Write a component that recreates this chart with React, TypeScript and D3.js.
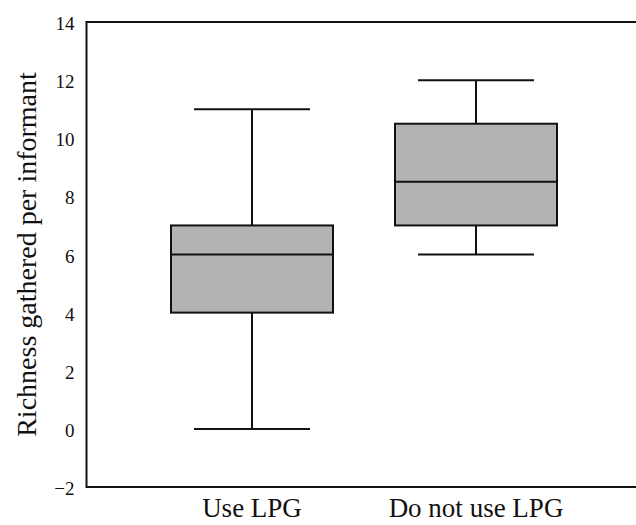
import * as d3 from 'd3';
import { useEffect, useRef } from 'react';

const groups = ['Use LPG', 'Do not use LPG'];
const whiskerLow = [0, 6];
const q1 = [4, 7];
const median = [6, 8.5];
const q3 = [7, 10.5];
const whiskerHigh = [11, 12];
const yTicks = [-2, 0, 2, 4, 6, 8, 10, 12, 14];

export default function App() {
  const svgRef = useRef<SVGSVGElement>(null);

  useEffect(() => {
    document.body.style.margin = '0';
    drawChart(svgRef.current!);
  }, []);

  return (
    <div>
      <svg ref={svgRef} style={{ display: 'block' }}></svg>
    </div>
  );
}

function drawChart(el: SVGSVGElement) {
  const w = 636;
  const h = 525;
  const left = 86.5;
  const top = 22;
  const bottom = 487;
  const font = "'Liberation Serif', 'Times New Roman', Times, Tinos, 'DejaVu Serif', 'Noto Serif', serif";

  const svg = d3.select(el).attr('width', w).attr('height', h)
    .style('font-family', font);
  svg.selectAll('*').remove();

  const x = d3.scalePoint<string>().domain(groups).range([252, 476]);
  const y = d3.scaleLinear().domain([-2, 14]).range([bottom, top]);

  const boxW = 162;
  const capW = 116;

  // frame (top and bottom run off the right edge)
  svg.append('path')
    .attr('d', `M${w + 10},${top}H${left}V${bottom}H${w + 10}`)
    .attr('fill', 'none')
    .attr('stroke', '#111')
    .attr('stroke-width', 2);

  const yAxis = d3.axisLeft(y).tickValues(yTicks).tickSize(0).tickPadding(12);
  const ga = svg.append('g')
    .attr('transform', `translate(${left},0)`)
    .call(yAxis)
    .attr('font-family', null)
    .attr('font-size', null);
  ga.select('.domain').remove();
  ga.selectAll('text')
    .style('font-family', font)
    .style('font-size', '19px')
    .attr('fill', '#111')
    .attr('dy', '0.4em');

  const g = svg.append('g')
    .selectAll('g')
    .data(groups)
    .join('g');

  const stroke = '#111';
  g.append('line')
    .attr('x1', (d) => x(d)!)
    .attr('x2', (d) => x(d)!)
    .attr('y1', (_, i) => y(whiskerLow[i]))
    .attr('y2', (_, i) => y(whiskerHigh[i]))
    .attr('stroke', stroke)
    .attr('stroke-width', 2);

  [whiskerLow, whiskerHigh].forEach((arr) => {
    g.append('line')
      .attr('x1', (d) => x(d)! - capW / 2)
      .attr('x2', (d) => x(d)! + capW / 2)
      .attr('y1', (_, i) => y(arr[i]))
      .attr('y2', (_, i) => y(arr[i]))
      .attr('stroke', stroke)
      .attr('stroke-width', 2);
  });

  g.append('rect')
    .attr('x', (d) => x(d)! - boxW / 2)
    .attr('width', boxW)
    .attr('y', (_, i) => y(q3[i]))
    .attr('height', (_, i) => y(q1[i]) - y(q3[i]))
    .attr('fill', '#b3b3b3')
    .attr('stroke', stroke)
    .attr('stroke-width', 2);

  g.append('line')
    .attr('x1', (d) => x(d)! - boxW / 2)
    .attr('x2', (d) => x(d)! + boxW / 2)
    .attr('y1', (_, i) => y(median[i]))
    .attr('y2', (_, i) => y(median[i]))
    .attr('stroke', stroke)
    .attr('stroke-width', 2);

  svg.append('g')
    .selectAll('text')
    .data(groups)
    .join('text')
    .attr('x', (d) => x(d)!)
    .attr('y', 517)
    .attr('text-anchor', 'middle')
    .style('font-size', '27px')
    .attr('fill', '#111')
    .text((d) => d);

  svg.append('text')
    .attr('transform', `translate(36,${(top + bottom) / 2}) rotate(-90)`)
    .attr('text-anchor', 'middle')
    .style('font-size', '28px')
    .attr('fill', '#111')
    .text('Richness gathered per informant');
}
